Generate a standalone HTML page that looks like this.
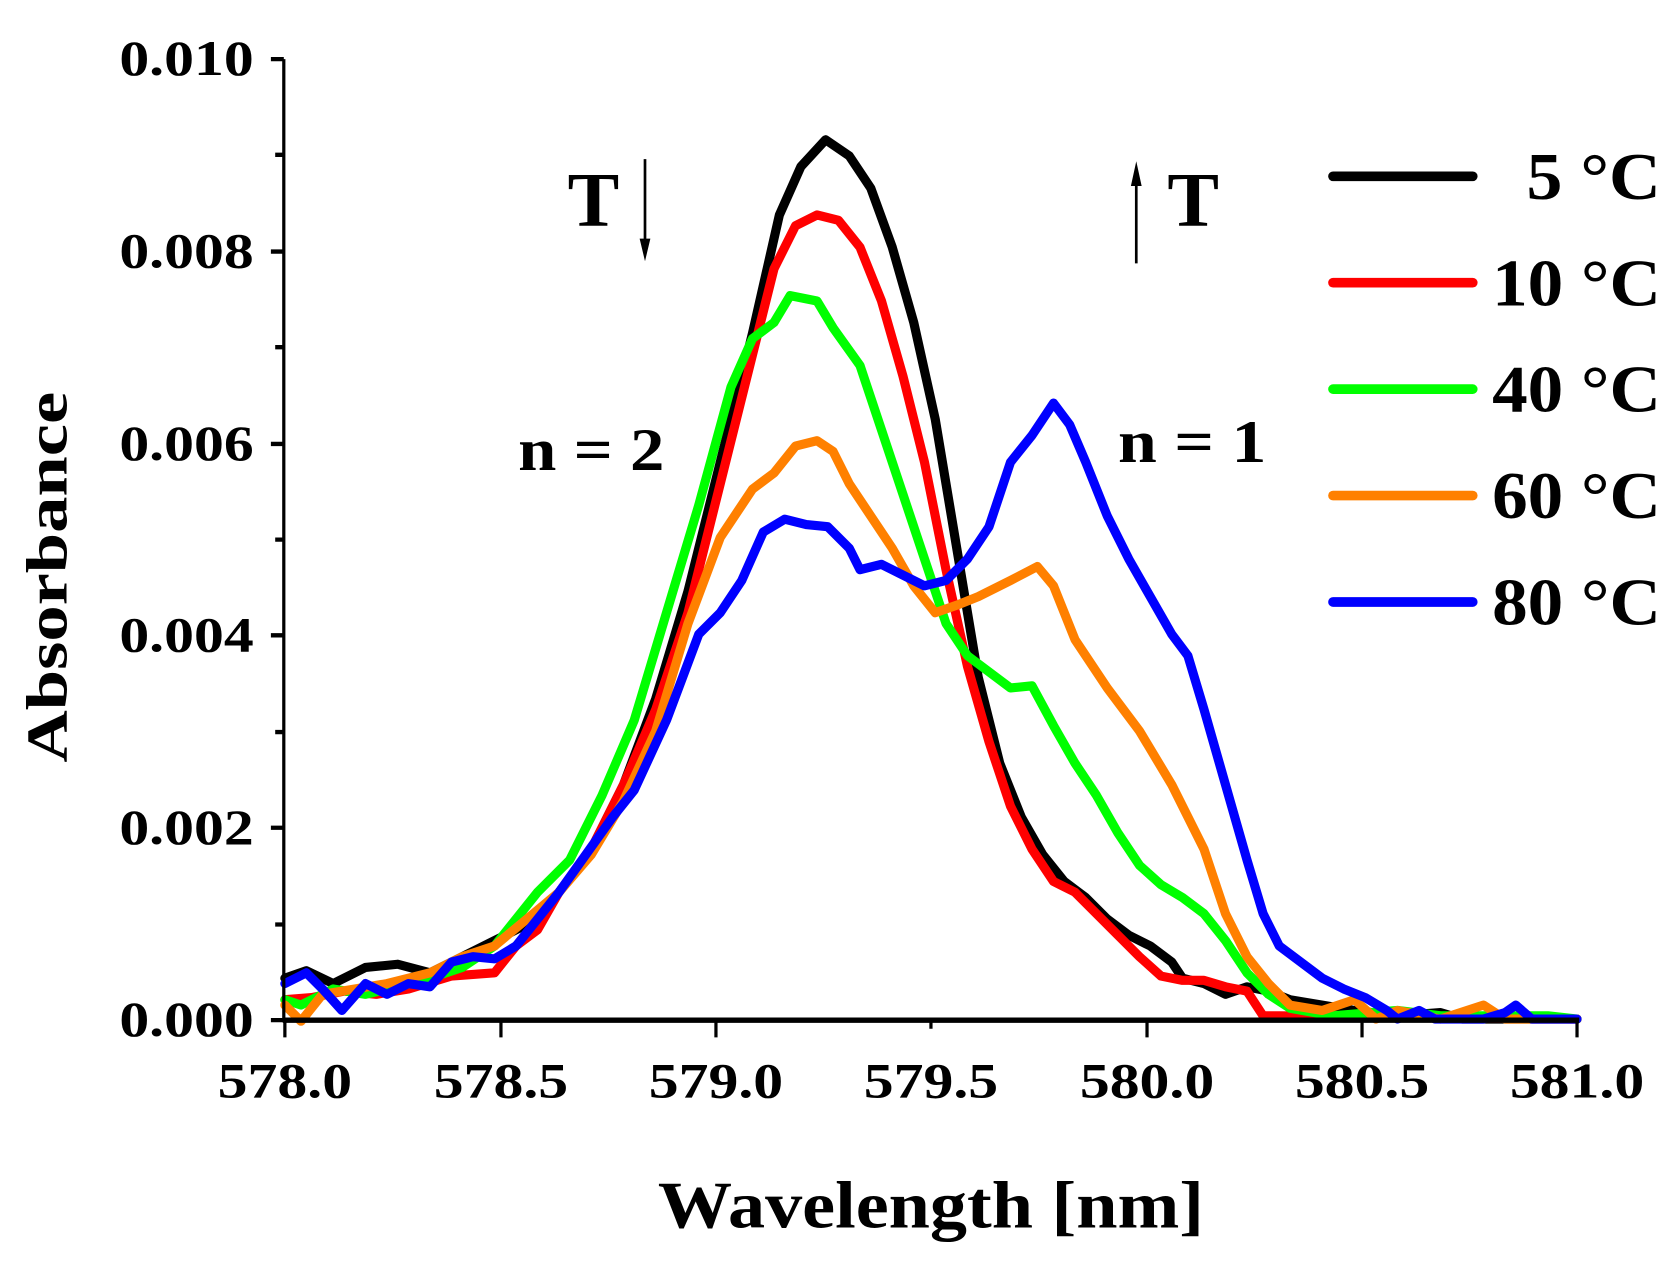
<!DOCTYPE html>
<html><head><style>html,body{margin:0;padding:0;background:#fff;}</style></head><body>
<svg width="1677" height="1262" viewBox="0 0 1560 1174" preserveAspectRatio="none" xmlns="http://www.w3.org/2000/svg" style="display:block">
<g font-family="Liberation Serif, serif" font-weight="bold" fill="#000">
<g fill="none" stroke-width="8.5" stroke-linejoin="round" stroke-linecap="round">
<polyline stroke="#000" points="265,910 285,903 310,915 340,900 370,897 400,905 430,890 460,875 490,860 520,830 550,790 580,730 610,650 640,550 670,430 700,310 725,200 745,155 768,130 790,145 810,175 830,230 850,300 870,390 890,510 910,630 930,710 950,760 970,795 990,820 1010,835 1030,855 1050,870 1070,880 1090,895 1100,910 1120,915 1140,925 1160,918 1180,922 1200,930 1230,935 1260,940 1300,945 1340,942 1360,948 1467,948"/>
<polyline stroke="#ff0000" points="265,930 290,928 320,922 350,925 380,920 420,908 460,905 480,880 500,865 520,830 550,790 580,730 610,660 640,570 670,450 700,330 720,250 740,210 760,200 780,205 800,230 820,280 840,350 860,430 880,530 900,620 920,690 940,750 960,790 980,820 1000,830 1020,850 1040,870 1060,890 1080,908 1100,912 1120,912 1140,918 1160,922 1175,945 1190,945 1467,948"/>
<polyline stroke="#00ff00" points="265,930 280,935 310,920 340,925 370,918 400,910 430,900 460,880 480,855 500,830 530,800 560,740 590,670 620,570 650,470 680,360 700,315 720,300 735,275 760,280 775,305 800,340 820,400 840,460 860,520 880,580 900,610 920,625 940,640 960,638 980,675 1000,710 1020,740 1040,775 1060,805 1080,823 1100,835 1120,850 1140,875 1160,905 1180,925 1200,938 1240,945 1300,940 1340,945 1440,945 1467,948"/>
<polyline stroke="#ff8000" points="265,935 280,950 300,925 330,920 360,915 400,905 430,890 460,880 490,855 520,830 550,795 580,745 610,680 640,580 670,500 700,455 720,440 740,415 760,410 775,420 790,450 810,480 830,510 850,545 870,570 890,563 910,555 940,540 965,527 980,545 1000,595 1030,640 1060,680 1090,730 1120,790 1140,850 1160,890 1180,915 1200,935 1230,940 1260,930 1280,948 1300,940 1340,948 1380,935 1400,948 1467,948"/>
<polyline stroke="#0000ff" points="265,915 285,905 300,920 318,940 340,915 360,925 380,915 400,918 420,895 440,890 460,892 480,880 500,855 520,830 545,795 570,760 590,735 620,670 650,590 670,570 690,540 710,495 730,483 750,488 770,490 790,510 800,530 820,525 840,535 860,545 880,540 900,520 920,490 940,430 960,405 980,375 995,395 1010,430 1030,480 1050,520 1070,555 1090,590 1105,610 1120,660 1140,730 1160,800 1175,850 1190,880 1210,895 1230,910 1250,920 1270,928 1290,940 1300,948 1320,940 1335,948 1380,948 1400,942 1410,935 1425,948 1467,948"/>
</g>
<g stroke="#000" fill="none">
<line x1="264" y1="55" x2="264" y2="950" stroke-width="3"/>
<line x1="263" y1="949" x2="1469" y2="949" stroke-width="5"/>
<path stroke-width="4" d="M252,55H264M252,234H264M252,413H264M252,591H264M252,770H264M252,949H264M256,144H264M256,323H264M256,502H264M256,681H264M256,860H264"/>
<path stroke-width="3" d="M265,949V965M466,949V965M666,949V965M866,949V957M1067,949V965M1267,949V965M1467,949V965"/>
<path stroke-width="2.5" d="M600,148V235M1057,160V245"/>
</g>
<path d="M595,222L600,243L605,222Z M1052,173L1057,150L1062,173Z"/>
<g font-size="46" text-anchor="end">
<text x="236" y="70" textLength="125" lengthAdjust="spacingAndGlyphs">0.010</text><text x="236" y="249" textLength="125" lengthAdjust="spacingAndGlyphs">0.008</text><text x="236" y="428" textLength="125" lengthAdjust="spacingAndGlyphs">0.006</text><text x="236" y="606" textLength="125" lengthAdjust="spacingAndGlyphs">0.004</text><text x="236" y="785" textLength="125" lengthAdjust="spacingAndGlyphs">0.002</text><text x="236" y="964" textLength="125" lengthAdjust="spacingAndGlyphs">0.000</text>
</g>
<g font-size="46" text-anchor="middle">
<text x="265" y="1021" textLength="125" lengthAdjust="spacingAndGlyphs">578.0</text><text x="466" y="1021" textLength="125" lengthAdjust="spacingAndGlyphs">578.5</text><text x="666" y="1021" textLength="125" lengthAdjust="spacingAndGlyphs">579.0</text><text x="866" y="1021" textLength="125" lengthAdjust="spacingAndGlyphs">579.5</text><text x="1067" y="1021" textLength="125" lengthAdjust="spacingAndGlyphs">580.0</text><text x="1267" y="1021" textLength="125" lengthAdjust="spacingAndGlyphs">580.5</text><text x="1467" y="1021" textLength="125" lengthAdjust="spacingAndGlyphs">581.0</text>
</g>
<text x="866" y="1142" font-size="62" text-anchor="middle" textLength="508" lengthAdjust="spacingAndGlyphs">Wavelength [nm]</text>
<text transform="translate(62,537) rotate(-90)" font-size="54" text-anchor="middle" textLength="345" lengthAdjust="spacingAndGlyphs">Absorbance</text>
<text x="552" y="210" font-size="72" text-anchor="middle">T</text>
<text x="1110" y="210" font-size="72" text-anchor="middle">T</text>
<text x="550" y="437" font-size="56" text-anchor="middle" textLength="136" lengthAdjust="spacingAndGlyphs">n = 2</text>
<text x="1109" y="430" font-size="56" text-anchor="middle" textLength="138" lengthAdjust="spacingAndGlyphs">n = 1</text>
<g stroke-width="9" stroke-linecap="round">
<line x1="1240" y1="164" x2="1370" y2="164" stroke="#000"/>
<line x1="1240" y1="263" x2="1370" y2="263" stroke="#ff0000"/>
<line x1="1240" y1="362" x2="1370" y2="362" stroke="#00ff00"/>
<line x1="1240" y1="461" x2="1370" y2="461" stroke="#ff8000"/>
<line x1="1240" y1="560" x2="1370" y2="560" stroke="#0000ff"/>
</g>
<g font-size="62" text-anchor="end">
<text x="1545" y="185" textLength="125" lengthAdjust="spacingAndGlyphs">5 °C</text><text x="1545" y="284" textLength="157" lengthAdjust="spacingAndGlyphs">10 °C</text><text x="1545" y="383" textLength="157" lengthAdjust="spacingAndGlyphs">40 °C</text><text x="1545" y="482" textLength="157" lengthAdjust="spacingAndGlyphs">60 °C</text><text x="1545" y="581" textLength="157" lengthAdjust="spacingAndGlyphs">80 °C</text>
</g>
</g>
</svg>
</body></html>
